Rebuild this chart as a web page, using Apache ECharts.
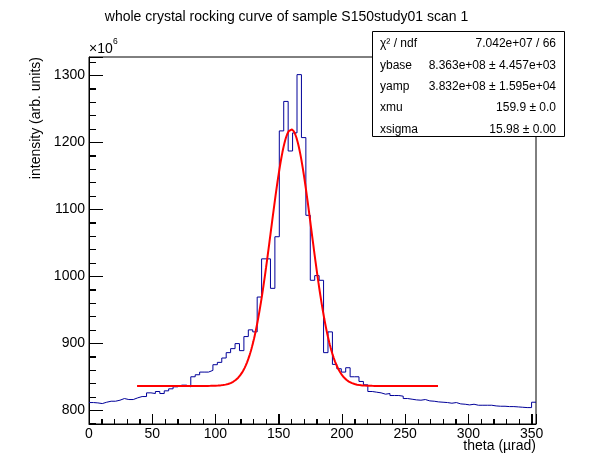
<!DOCTYPE html>
<html>
<head>
<meta charset="utf-8">
<script src="https://cdn.jsdelivr.net/npm/echarts@6/dist/echarts.min.js"></script>
<style>
  html, body { margin: 0; padding: 0; background: #fff; }
  #chart { width: 596px; height: 472px; }
</style>
</head>
<body>
<div id="chart"></div>
<script>
// histogram: 101 bins of 3.5 urad starting at 0, intensity in units of 1e6
var binStart = 0;
var binWidth = 3.5;
var counts = [
  811.5, 811, 810, 812, 813.5, 813.5, 815, 817.5, 816, 816,
  818.5, 820.5, 820.5, 826, 825, 828, 825, 829, 832, 835,
  837.5, 837.5, 835, 850, 853, 857, 857, 859.5, 868, 871.5,
  878, 886, 892, 899.5, 889, 910, 920, 917, 969, 1026,
  1026, 982, 1059, 1217, 1261, 1187, 1214, 1301, 1207, 1091,
  994, 1001, 994, 886, 917, 868.5, 862, 857, 863.5, 850,
  850, 843, 838, 828, 827, 826, 824, 825, 822, 822,
  821, 817.5, 816.5, 815.5, 815, 816, 814, 813.5, 812.5, 812,
  811.5, 810.5, 811.5, 809.5, 809, 808, 809, 807.5, 807.5, 807.5,
  807.5, 806.5, 806, 806, 805.5, 805.5, 805, 804.5, 804, 804,
  812
];

// fit result (gaus + const), same units
var ybase = 836.3;
var yamp = 383.2;
var xmu = 159.9;
var xsigma = 15.98;
var fitRange = [38, 276];

// axis ranges and ticks
var xRange = [0, 353.5];
var yRange = [779.5, 1327.3];
var xMajor = [0, 50, 100, 150, 200, 250, 300, 350];
var xMinor = [10, 20, 30, 40, 60, 70, 80, 90, 110, 120, 130, 140, 160, 170, 180, 190,
  210, 220, 230, 240, 260, 270, 280, 290, 310, 320, 330, 340];
var yMajor = [800, 900, 1000, 1100, 1200, 1300];
var yMinor = [780, 820, 840, 860, 880, 920, 940, 960, 980, 1020, 1040, 1060, 1080,
  1120, 1140, 1160, 1180, 1220, 1240, 1260, 1280, 1320];

// stats box
var statNames = ['\u03c7\u00b2 / ndf', 'ybase', 'yamp', 'xmu', 'xsigma'];
var statValues = ['7.042e+07 / 66', '8.363e+08 \u00b1 4.457e+03', '3.832e+08 \u00b1 1.595e+04', '159.9 \u00b1 0.0', '15.98 \u00b1 0.00'];

var histPoints = counts.map(function (c, i) { return [binStart + i * binWidth, c]; });
histPoints.push([binStart + counts.length * binWidth, counts[counts.length - 1]]);

var fitPoints = [];
for (var x = fitRange[0]; x <= fitRange[1] + 1e-9; x += 0.5) {
  var d = (x - xmu) / xsigma;
  fitPoints.push([x, ybase + yamp * Math.exp(-0.5 * d * d)]);
}

// tick marks drawn inside the frame: [0 = x axis / 1 = y axis, value, length px]
var tickData = [];
xMajor.forEach(function (v) { tickData.push([0, v, 10]); });
xMinor.forEach(function (v) { tickData.push([0, v, 5]); });
yMajor.forEach(function (v) { tickData.push([1, v, 14]); });
yMinor.forEach(function (v) { tickData.push([1, v, 7]); });

function renderTick(params, api) {
  var kind = api.value(0), v = api.value(1), len = api.value(2);
  var p, shape;
  if (kind === 0) {
    p = api.coord([v, yRange[0]]);
    var px = Math.round(p[0]) + 0.5;
    shape = { x1: px, y1: p[1], x2: px, y2: p[1] - len };
  } else {
    p = api.coord([xRange[0], v]);
    var py = Math.round(p[1]) + 0.5;
    shape = { x1: p[0], y1: py, x2: p[0] + len, y2: py };
  }
  return { type: 'line', shape: shape, style: { stroke: '#000', lineWidth: 1 } };
}

var font = 'Liberation Sans, Arial, Helvetica, sans-serif';
var myChart = echarts.init(document.getElementById('chart'));

var graphics = [
  { type: 'text', x: 286.5, y: 17, z: 100,
    style: { text: 'whole crystal rocking curve of sample S150study01 scan 1', font: '14px ' + font, fill: '#000', textAlign: 'center', textVerticalAlign: 'middle' } },
  { type: 'text', x: 89, y: 49, z: 100,
    style: { text: '\u00d710', font: '14px ' + font, fill: '#000', textAlign: 'left', textVerticalAlign: 'middle' } },
  { type: 'text', x: 113, y: 42, z: 100,
    style: { text: '6', font: '8.5px ' + font, fill: '#000', textAlign: 'left', textVerticalAlign: 'middle' } },
  { type: 'text', x: 36, y: 57, rotation: Math.PI / 2, z: 100,
    style: { text: 'intensity (arb. units)', font: '14px ' + font, fill: '#000', textAlign: 'right', textVerticalAlign: 'middle' } },
  { type: 'text', x: 536, y: 446, z: 100,
    style: { text: 'theta (\u00b5rad)', font: '14px ' + font, fill: '#000', textAlign: 'right', textVerticalAlign: 'middle' } },
  { type: 'rect', z: 100,
    shape: { x: 372.5, y: 31.5, width: 192, height: 105 },
    style: { fill: '#fff', stroke: '#000', lineWidth: 1 } }
];
var rowY = [43.8, 65.2, 86.6, 108, 129.3];
statNames.forEach(function (n, i) {
  graphics.push({ type: 'text', x: 380, y: rowY[i], z: 101,
    style: { text: n, font: '12px ' + font, fill: '#000', textAlign: 'left', textVerticalAlign: 'middle' } });
  graphics.push({ type: 'text', x: 556, y: rowY[i], z: 101,
    style: { text: statValues[i], font: '12px ' + font, fill: '#000', textAlign: 'right', textVerticalAlign: 'middle' } });
});

function plain(val) { return String(val); }

var option = {
  animation: false,
  backgroundColor: '#fff',
  textStyle: { fontFamily: font },
  grid: { left: 89, top: 57, right: 60, bottom: 48, show: true, borderColor: '#000', borderWidth: 1 },
  xAxis: {
    type: 'value', min: xRange[0], max: xRange[1], interval: 50,
    axisLine: { show: true, onZero: false, lineStyle: { color: '#000', width: 1 } },
    axisTick: { show: true, inside: true, length: 10, lineStyle: { color: '#000', width: 1 } },
    minorTick: { show: true, splitNumber: 5, length: 5, lineStyle: { color: '#000', width: 1 } },
    axisLabel: { show: true, color: '#000', fontSize: 14, margin: 3, formatter: plain, showMinLabel: true, showMaxLabel: false },
    splitLine: { show: false },
    minorSplitLine: { show: false }
  },
  yAxis: {
    type: 'value', min: yRange[0], max: yRange[1], splitNumber: 5,
    axisLine: { show: true, onZero: false, lineStyle: { color: '#000', width: 1 } },
    axisTick: { show: true, inside: true, length: 14, lineStyle: { color: '#000', width: 1 } },
    minorTick: { show: true, splitNumber: 5, length: 7, lineStyle: { color: '#000', width: 1 } },
    axisLabel: { show: true, color: '#000', fontSize: 14, margin: 4, formatter: plain, showMinLabel: false, showMaxLabel: false },
    splitLine: { show: false },
    minorSplitLine: { show: false }
  },
  series: [
    { type: 'custom', data: tickData, renderItem: renderTick, clip: false, z: 5 },
    { type: 'line', step: 'end', data: histPoints,
      symbol: 'none', lineStyle: { color: '#000099', width: 1 }, z: 6 },
    { type: 'line', data: fitPoints,
      symbol: 'none', lineStyle: { color: '#ff0000', width: 2 }, z: 7 }
  ],
  graphic: graphics
};
myChart.setOption(option);
</script>
</body>
</html>
